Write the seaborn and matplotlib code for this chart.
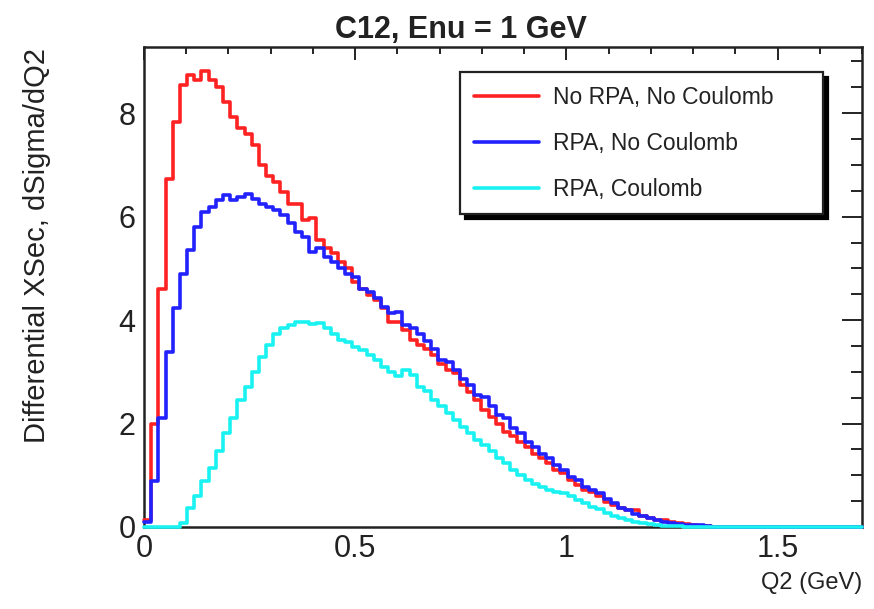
import numpy as np
import pandas as pd
import matplotlib
matplotlib.use("Agg")
import matplotlib.pyplot as plt
import seaborn as sns
from matplotlib.ticker import MultipleLocator, FuncFormatter

# ---- data (100 bins from 0 to 1.7 in Q2) ----
q2_min, q2_max, n_bins = 0.0, 1.7, 100

no_rpa_no_coulomb = [
    0.13, 2.00, 4.61, 6.72, 7.83, 8.54, 8.73, 8.64, 8.81, 8.64,
    8.51, 8.22, 7.93, 7.72, 7.59, 7.38, 7.00, 6.78, 6.67, 6.48,
    6.25, 6.25, 5.93, 5.98, 5.55, 5.40, 5.29, 5.13, 5.00, 4.74,
    4.61, 4.48, 4.39, 4.23, 3.97, 3.97, 3.81, 3.61, 3.52, 3.45,
    3.32, 3.16, 3.03, 2.97, 2.74, 2.61, 2.45, 2.26, 2.13, 2.00,
    1.84, 1.75, 1.65, 1.55, 1.42, 1.33, 1.23, 1.10, 1.04, 0.91,
    0.81, 0.71, 0.68, 0.59, 0.49, 0.43, 0.36, 0.32, 0.33, 0.21,
    0.18, 0.14, 0.13, 0.10, 0.07, 0.05, 0.04, 0.025, 0.01, 0.0,
    0.0, 0.0, 0.0, 0.0, 0.0, 0.0, 0.0, 0.0, 0.0, 0.0,
    0.0, 0.0, 0.0, 0.0, 0.0, 0.0, 0.0, 0.0, 0.0, 0.0,
]

rpa_no_coulomb = [
    0.10, 0.88, 2.10, 3.39, 4.23, 4.90, 5.35, 5.80, 6.09, 6.19,
    6.32, 6.42, 6.32, 6.38, 6.43, 6.35, 6.25, 6.19, 6.13, 6.03,
    5.87, 5.71, 5.61, 5.32, 5.40, 5.22, 5.13, 5.00, 4.90, 4.84,
    4.61, 4.55, 4.42, 4.26, 4.13, 4.16, 3.90, 3.84, 3.74, 3.60,
    3.45, 3.23, 3.19, 3.03, 2.87, 2.74, 2.55, 2.52, 2.33, 2.16,
    2.10, 1.91, 1.81, 1.65, 1.55, 1.42, 1.33, 1.20, 1.10, 0.96,
    0.90, 0.78, 0.71, 0.65, 0.55, 0.46, 0.36, 0.32, 0.25, 0.21,
    0.17, 0.135, 0.10, 0.08, 0.06, 0.045, 0.04, 0.03, 0.02, 0.0,
    0.0, 0.0, 0.0, 0.0, 0.0, 0.0, 0.0, 0.0, 0.0, 0.0,
    0.0, 0.0, 0.0, 0.0, 0.0, 0.0, 0.0, 0.0, 0.0, 0.0,
]

rpa_coulomb = [
    0.0, 0.0, 0.0, 0.0, 0.0, 0.07, 0.36, 0.59, 0.88, 1.14,
    1.46, 1.81, 2.10, 2.45, 2.71, 3.00, 3.29, 3.52, 3.74, 3.85,
    3.90, 3.97, 3.97, 3.92, 3.95, 3.84, 3.74, 3.61, 3.58, 3.48,
    3.42, 3.32, 3.23, 3.10, 3.00, 2.92, 3.03, 2.94, 2.71, 2.63,
    2.45, 2.33, 2.20, 2.07, 1.94, 1.81, 1.68, 1.58, 1.46, 1.33,
    1.23, 1.10, 1.00, 0.91, 0.84, 0.78, 0.71, 0.68, 0.65, 0.60,
    0.52, 0.46, 0.39, 0.34, 0.28, 0.21, 0.17, 0.135, 0.10, 0.07,
    0.05, 0.04, 0.025, 0.02, 0.01, 0.0, 0.0, 0.0, 0.0, 0.0,
    0.0, 0.0, 0.0, 0.0, 0.0, 0.0, 0.0, 0.0, 0.0, 0.0,
    0.0, 0.0, 0.0, 0.0, 0.0, 0.0, 0.0, 0.0, 0.0, 0.0,
]

series_labels = ["No RPA, No Coulomb", "RPA, No Coulomb", "RPA, Coulomb"]
series_values = [no_rpa_no_coulomb, rpa_no_coulomb, rpa_coulomb]
series_colors = ["#ff2222", "#2222ff", "#1af2f2"]

x_ticks = [0, 0.5, 1, 1.5]
y_ticks = [0, 2, 4, 6, 8]

title_text = "C12, Enu = 1 GeV"
x_label = "Q2 (GeV)"
y_label = "Differential XSec, dSigma/dQ2"

# ---- build table ----
edges = np.linspace(q2_min, q2_max, n_bins + 1)
centers = 0.5 * (edges[:-1] + edges[1:])
frames = []
for lab, vals in zip(series_labels, series_values):
    frames.append(pd.DataFrame({"q2": centers, "xsec": vals, "series": lab}))
df = pd.concat(frames, ignore_index=True)

# ---- style ----
sns.set_theme(style="white")
plt.rcParams["font.family"] = ["Liberation Sans", "DejaVu Sans"]

fig = plt.figure(figsize=(8.74, 6.09), dpi=100)
fig.patch.set_facecolor("white")
ax = fig.add_axes([144 / 874, (609 - 527) / 609, (862 - 144) / 874, (527 - 47) / 609])

for lab, col in zip(series_labels, series_colors):
    n_before = len(ax.lines)
    sub = df[df["series"] == lab].reset_index(drop=True)
    sns.histplot(data=sub, x="q2", weights="xsec",
                 bins=n_bins, binrange=(q2_min, q2_max),
                 element="step", fill=False, color=col,
                 linewidth=2.6, ax=ax)
    for ln in ax.lines[n_before:]:
        ln.set_label(lab)
        ln.set_clip_on(False)
        ln.set_zorder(3)

ax.set_xlim(q2_min, q2_max)
ax.set_ylim(0, 9.28)
ax.set_xlabel("")
ax.set_ylabel("")

ax.set_xticks(x_ticks)
ax.set_yticks(y_ticks)
ax.xaxis.set_minor_locator(MultipleLocator(0.1))
ax.yaxis.set_minor_locator(MultipleLocator(0.5))
fmt = FuncFormatter(lambda v, p: f"{v:g}")
ax.xaxis.set_major_formatter(fmt)
ax.yaxis.set_major_formatter(fmt)

ax.tick_params(which="both", direction="in", top=True, right=True,
               width=1.4, color="#222222", labelsize=22, labelcolor="#222222")
ax.tick_params(axis="x", which="major", length=9.5, pad=5)
ax.tick_params(axis="x", which="minor", length=5)
ax.tick_params(axis="y", which="major", length=14.5, pad=6)
ax.tick_params(axis="y", which="minor", length=8)
for sp in ax.spines.values():
    sp.set_visible(True)
    sp.set_linewidth(1.8)
    sp.set_color("#222222")
    sp.set_zorder(2.5)

leg = ax.legend(loc="upper left", bbox_to_anchor=(0.440, 0.666, 0.506, 0.282),
                mode="expand", fontsize=16.5, frameon=True, fancybox=False,
                shadow={"color": "black", "alpha": 1.0, "ox": 3.5, "oy": -3.5},
                borderpad=0.6, labelspacing=1.0, handlelength=2.85,
                handletextpad=0.6, borderaxespad=0)
leg.set_zorder(5)
frame = leg.get_frame()
frame.set_edgecolor("#222222")
frame.set_linewidth(1.6)
frame.set_facecolor("white")
frame.set_alpha(1.0)
for t in leg.get_texts():
    t.set_color("#222222")
for h in leg.legend_handles:
    h.set_linewidth(2.6)

fig.text(461 / 874, 1 - 30 / 609, title_text, ha="center", va="center",
         fontsize=22, fontweight="bold", color="#222222")
fig.text(37 / 874, 1 - 48 / 609, y_label, rotation=90, ha="center", va="top",
         fontsize=21, color="#222222")
fig.text(862 / 874, 1 - 583 / 609, x_label, ha="right", va="center",
         fontsize=17, color="#222222")

fig.savefig("out.png", dpi=100, facecolor="white")
